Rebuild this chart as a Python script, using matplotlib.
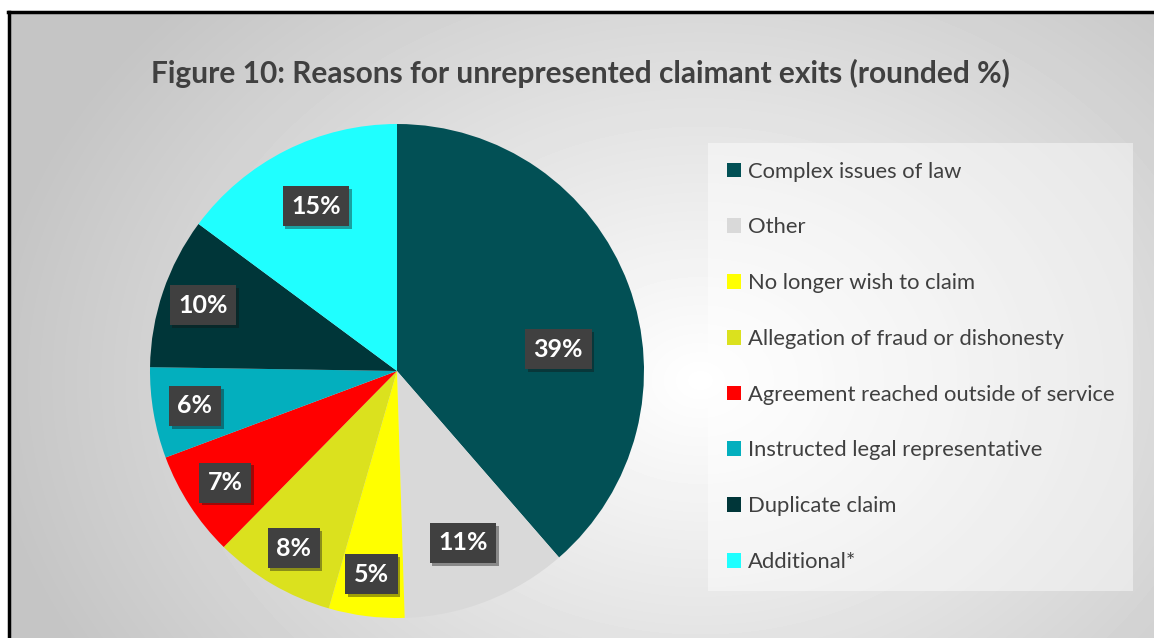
import numpy as np
import matplotlib
matplotlib.use('Agg')
import matplotlib.pyplot as plt
import matplotlib.patheffects as pe
from matplotlib.lines import Line2D
from matplotlib.patches import Patch

# data
categories = ['Complex issues of law', 'Other', 'No longer wish to claim',
              'Allegation of fraud or dishonesty', 'Agreement reached outside of service',
              'Instructed legal representative', 'Duplicate claim', 'Additional*']
values = [39, 11, 5, 8, 7, 6, 10, 15]
colors = ['#025055', '#D9D9D9', '#FFFF00', '#DBE11E', '#FF0000', '#03AFBE', '#003639', '#1FFFFF']
title = 'Figure 10: Reasons for unrepresented claimant exits (rounded %)'

plt.rcParams['font.family'] = ['Lato', 'DejaVu Sans']

W, H = 1154, 638
fig = plt.figure(figsize=(W / 100, H / 100), dpi=100)
fig.patch.set_facecolor('white')

# radial gradient background of the chart area
bx0, by1 = 10, 13
bg = fig.add_axes([bx0 / W, 0, 1 - bx0 / W, 1 - by1 / H])
bg.set_axis_off()
yy, xx = np.mgrid[by1:H, bx0:W]
r = np.sqrt((xx - 700) ** 2 + ((yy - 380) * 1.3) ** 2)
t = np.clip(r / 720, 0, 1)
shade = 1.0 - 0.23 * t
bg.imshow(shade, cmap='gray', vmin=0, vmax=1, aspect='auto', interpolation='bilinear')

# border (left and top visible)
fig.add_artist(Line2D([9 / W, 9 / W], [0, 1 - 12 / H], color='black', lw=2.5, transform=fig.transFigure))
fig.add_artist(Line2D([8 / W, 1], [1 - 12 / H, 1 - 12 / H], color='black', lw=2.5, transform=fig.transFigure))

fig.text(580 / W, 1 - 73 / H, title, ha='center', va='center', fontsize=21.5,
         fontweight='bold', color='#404040')

# pie
cx, cy, R = 397, 371, 247
ax = fig.add_axes([(cx - R) / W, (H - cy - R) / H, 2 * R / W, 2 * R / H])
wedges, texts, autotexts = ax.pie(values, colors=colors, startangle=90, counterclock=False,
                                  autopct='%d%%', pctdistance=0.83,
                                  textprops=dict(color='white', fontsize=18, fontweight='bold'))
ax.set_xlim(-1, 1)
ax.set_ylim(-1, 1)
ax.set_aspect('equal')
ax.set_axis_off()

# sum of rounded values is 101, so show the values themselves
for v, at in zip(values, autotexts):
    at.set_text('%d%%' % v)
    at.set_bbox(dict(boxstyle='square,pad=0.34', fc='#404040', ec='none'))
    at.get_bbox_patch().set_path_effects([pe.SimplePatchShadow(offset=(2, -2), alpha=0.4), pe.Normal()])

# Excel best-fit moved a few labels inwards
x, y = autotexts[0].get_position()
autotexts[0].set_position((x * 0.84, y * 0.3))
for i in (1, 7):
    x, y = autotexts[i].get_position()
    autotexts[i].set_position((x * 0.88, y * 0.9))

# legend
handles = [Patch(facecolor=c, edgecolor='none') for c in colors]
leg = fig.legend(handles, categories, loc='upper left', bbox_to_anchor=(708 / W, 1 - 143 / H),
                 frameon=True, fancybox=False, fontsize=15.8, labelspacing=1.63,
                 handlelength=0.66, handleheight=0.66, handletextpad=0.3,
                 borderpad=0.85, borderaxespad=0)
leg.get_frame().set_facecolor('white')
leg.get_frame().set_alpha(0.45)
leg.get_frame().set_edgecolor('none')
for tx in leg.get_texts():
    tx.set_color('#404040')

fig.savefig('out.png', dpi=100)
